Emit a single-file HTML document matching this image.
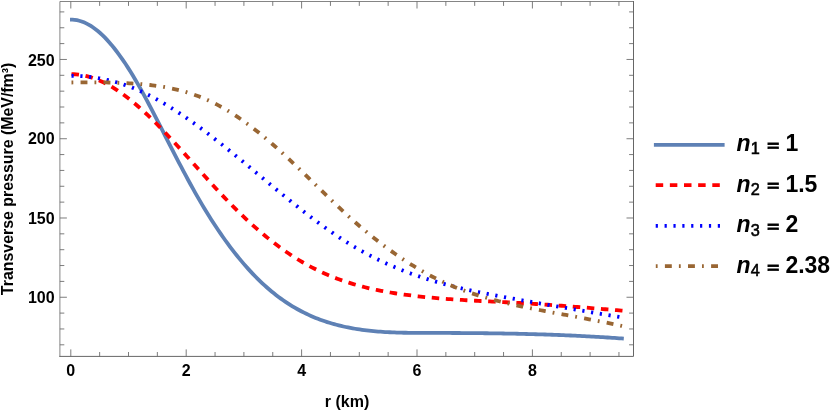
<!DOCTYPE html>
<html><head><meta charset="utf-8"><title>plot</title>
<style>
html,body{margin:0;padding:0;background:#fff;}
svg{display:block;will-change:transform;}
text{font-family:"Liberation Sans",sans-serif;font-weight:bold;fill:#000;}
.t{font-size:16px;}
.lg{font-size:23px;}
.eq{stroke:#000;stroke-width:1.3px;}
.sub{font-size:16.3px;font-weight:normal;stroke:#000;stroke-width:0.55px;}
</style></head>
<body>
<svg width="830" height="410" viewBox="0 0 830 410">
<rect width="830" height="410" fill="#ffffff"/>
<path d="M59.9 356.4 V1.5 H633.5" fill="none" stroke="#666666" stroke-width="0.8" stroke-linecap="square"/>
<path d="M633.5 1.5 V356.4 H59.9" fill="none" stroke="#666666" stroke-width="1" stroke-linecap="square"/>
<path d="M70.80 356.4 v-7 M70.80 1.5 v7 M99.65 356.4 v-4.4 M99.65 1.5 v4.4 M128.50 356.4 v-4.4 M128.50 1.5 v4.4 M157.35 356.4 v-4.4 M157.35 1.5 v4.4 M186.20 356.4 v-7 M186.20 1.5 v7 M215.05 356.4 v-4.4 M215.05 1.5 v4.4 M243.90 356.4 v-4.4 M243.90 1.5 v4.4 M272.75 356.4 v-4.4 M272.75 1.5 v4.4 M301.60 356.4 v-7 M301.60 1.5 v7 M330.45 356.4 v-4.4 M330.45 1.5 v4.4 M359.30 356.4 v-4.4 M359.30 1.5 v4.4 M388.15 356.4 v-4.4 M388.15 1.5 v4.4 M417.00 356.4 v-7 M417.00 1.5 v7 M445.85 356.4 v-4.4 M445.85 1.5 v4.4 M474.70 356.4 v-4.4 M474.70 1.5 v4.4 M503.55 356.4 v-4.4 M503.55 1.5 v4.4 M532.40 356.4 v-7 M532.40 1.5 v7 M561.25 356.4 v-4.4 M561.25 1.5 v4.4 M590.10 356.4 v-4.4 M590.10 1.5 v4.4 M618.95 356.4 v-4.4 M618.95 1.5 v4.4 M59.9 344.81 h4.4 M633.5 344.81 h-4.4 M59.9 328.96 h4.4 M633.5 328.96 h-4.4 M59.9 313.10 h4.4 M633.5 313.10 h-4.4 M59.9 297.25 h7 M633.5 297.25 h-7 M59.9 281.40 h4.4 M633.5 281.40 h-4.4 M59.9 265.54 h4.4 M633.5 265.54 h-4.4 M59.9 249.69 h4.4 M633.5 249.69 h-4.4 M59.9 233.84 h4.4 M633.5 233.84 h-4.4 M59.9 217.99 h7 M633.5 217.99 h-7 M59.9 202.13 h4.4 M633.5 202.13 h-4.4 M59.9 186.28 h4.4 M633.5 186.28 h-4.4 M59.9 170.43 h4.4 M633.5 170.43 h-4.4 M59.9 154.57 h4.4 M633.5 154.57 h-4.4 M59.9 138.72 h7 M633.5 138.72 h-7 M59.9 122.87 h4.4 M633.5 122.87 h-4.4 M59.9 107.01 h4.4 M633.5 107.01 h-4.4 M59.9 91.16 h4.4 M633.5 91.16 h-4.4 M59.9 75.31 h4.4 M633.5 75.31 h-4.4 M59.9 59.46 h7 M633.5 59.46 h-7 M59.9 43.60 h4.4 M633.5 43.60 h-4.4 M59.9 27.75 h4.4 M633.5 27.75 h-4.4 M59.9 11.90 h4.4 M633.5 11.90 h-4.4" fill="none" stroke="#666666" stroke-width="0.85"/>
<path id="bs" d="M70.00 19.64 L72.32 19.66 L74.63 19.85 L76.95 20.21 L79.27 20.73 L81.59 21.43 L83.90 22.31 L86.22 23.35 L88.54 24.56 L90.85 25.94 L93.17 27.47 L95.49 29.17 L97.81 31.02 L100.12 33.01 L102.44 35.16 L104.76 37.45 L107.07 39.89 L109.39 42.46 L111.71 45.16 L114.03 48.00 L116.34 50.97 L118.66 54.06 L120.98 57.27 L123.29 60.60 L125.61 64.04 L127.93 67.60 L130.25 71.26 L132.56 75.03 L134.88 78.90 L137.20 82.87 L139.51 86.93 L141.83 91.09 L144.15 95.33 L146.47 99.63 L148.78 104.01 L151.10 108.43 L153.42 112.89 L155.73 117.39 L158.05 121.91 L160.37 126.44 L162.69 130.98 L165.00 135.52 L167.32 140.05 L169.64 144.58 L171.95 149.10 L174.27 153.60 L176.59 158.07 L178.91 162.53 L181.22 166.95 L183.54 171.33 L185.86 175.68 L188.17 179.98 L190.49 184.23 L192.81 188.43 L195.13 192.58 L197.44 196.65 L199.76 200.67 L202.08 204.61 L204.39 208.48 L206.71 212.28 L209.03 216.02 L211.35 219.68 L213.66 223.28 L215.98 226.80 L218.30 230.26 L220.62 233.65 L222.93 236.98 L225.25 240.23 L227.57 243.42 L229.88 246.54 L232.20 249.59 L234.52 252.58 L236.84 255.50 L239.15 258.35 L241.47 261.14 L243.79 263.86 L246.10 266.52 L248.42 269.11 L250.74 271.63 L253.06 274.09 L255.37 276.49 L257.69 278.82 L260.01 281.08 L262.32 283.28 L264.64 285.42 L266.96 287.49 L269.28 289.50 L271.59 291.45 L273.91 293.33 L276.23 295.16 L278.54 296.92 L280.86 298.62 L283.18 300.27 L285.50 301.86 L287.81 303.40 L290.13 304.88 L292.45 306.30 L294.76 307.68 L297.08 309.00 L299.40 310.28 L301.72 311.50 L304.03 312.68 L306.35 313.81 L308.67 314.90 L310.98 315.94 L313.30 316.94 L315.62 317.89 L317.94 318.81 L320.25 319.68 L322.57 320.52 L324.89 321.31 L327.20 322.08 L329.52 322.80 L331.84 323.49 L334.16 324.15 L336.47 324.78 L338.79 325.38 L341.11 325.94 L343.42 326.48 L345.74 326.99 L348.06 327.47 L350.38 327.92 L352.69 328.35 L355.01 328.75 L357.33 329.13 L359.64 329.48 L361.96 329.81 L364.28 330.12 L366.60 330.41 L368.91 330.67 L371.23 330.92 L373.55 331.15 L375.86 331.36 L378.18 331.55 L380.50 331.72 L382.82 331.88 L385.13 332.03 L387.45 332.16 L389.77 332.27 L392.08 332.38 L394.40 332.47 L396.72 332.55 L399.04 332.62 L401.35 332.68 L403.67 332.73 L405.99 332.77 L408.30 332.80 L410.62 332.83 L412.94 332.85 L415.26 332.87 L417.57 332.88 L419.89 332.89 L422.21 332.90 L424.52 332.90 L426.84 332.91 L429.16 332.91 L431.48 332.91 L433.79 332.92 L436.11 332.92 L438.43 332.93 L440.74 332.93 L443.06 332.94 L445.38 332.95 L447.70 332.96 L450.01 332.97 L452.33 332.98 L454.65 332.99 L456.96 333.00 L459.28 333.01 L461.60 333.03 L463.92 333.04 L466.23 333.06 L468.55 333.08 L470.87 333.09 L473.18 333.11 L475.50 333.14 L477.82 333.16 L480.14 333.18 L482.45 333.21 L484.77 333.23 L487.09 333.26 L489.41 333.29 L491.72 333.32 L494.04 333.35 L496.36 333.39 L498.67 333.42 L500.99 333.46 L503.31 333.50 L505.63 333.54 L507.94 333.58 L510.26 333.63 L512.58 333.67 L514.89 333.72 L517.21 333.77 L519.53 333.82 L521.85 333.87 L524.16 333.93 L526.48 333.99 L528.80 334.05 L531.11 334.11 L533.43 334.17 L535.75 334.24 L538.07 334.30 L540.38 334.37 L542.70 334.45 L545.02 334.52 L547.33 334.60 L549.65 334.68 L551.97 334.76 L554.29 334.84 L556.60 334.93 L558.92 335.02 L561.24 335.11 L563.55 335.20 L565.87 335.30 L568.19 335.40 L570.51 335.50 L572.82 335.60 L575.14 335.71 L577.46 335.82 L579.77 335.93 L582.09 336.05 L584.41 336.17 L586.73 336.29 L589.04 336.41 L591.36 336.54 L593.68 336.67 L595.99 336.80 L598.31 336.94 L600.63 337.07 L602.95 337.22 L605.26 337.36 L607.58 337.51 L609.90 337.66 L612.21 337.82 L614.53 337.97 L616.85 338.14 L619.17 338.30 L621.48 338.47 L623.80 338.64" fill="none" stroke="#5e81b5" stroke-width="3.8"/>
<path id="red" d="M71.50 74.15 L73.81 74.23 L76.12 74.40 L78.43 74.65 L80.74 74.98 L83.05 75.39 L85.37 75.87 L87.68 76.44 L89.99 77.09 L92.30 77.81 L94.61 78.61 L96.92 79.49 L99.23 80.44 L101.54 81.47 L103.85 82.57 L106.16 83.74 L108.47 84.99 L110.78 86.30 L113.10 87.67 L115.41 89.12 L117.72 90.62 L120.03 92.19 L122.34 93.82 L124.65 95.51 L126.96 97.25 L129.27 99.05 L131.58 100.90 L133.89 102.80 L136.20 104.75 L138.52 106.74 L140.83 108.79 L143.14 110.88 L145.45 113.01 L147.76 115.18 L150.07 117.39 L152.38 119.63 L154.69 121.91 L157.00 124.23 L159.31 126.57 L161.62 128.95 L163.94 131.35 L166.25 133.78 L168.56 136.23 L170.87 138.70 L173.18 141.19 L175.49 143.70 L177.80 146.23 L180.11 148.77 L182.42 151.32 L184.73 153.89 L187.04 156.46 L189.35 159.03 L191.67 161.61 L193.98 164.20 L196.29 166.78 L198.60 169.36 L200.91 171.94 L203.22 174.51 L205.53 177.08 L207.84 179.63 L210.15 182.17 L212.46 184.70 L214.77 187.22 L217.09 189.71 L219.40 192.19 L221.71 194.65 L224.02 197.09 L226.33 199.50 L228.64 201.89 L230.95 204.26 L233.26 206.59 L235.57 208.90 L237.88 211.19 L240.19 213.44 L242.51 215.66 L244.82 217.86 L247.13 220.02 L249.44 222.15 L251.75 224.26 L254.06 226.33 L256.37 228.37 L258.68 230.38 L260.99 232.36 L263.30 234.31 L265.61 236.22 L267.92 238.11 L270.24 239.96 L272.55 241.77 L274.86 243.56 L277.17 245.31 L279.48 247.02 L281.79 248.71 L284.10 250.35 L286.41 251.97 L288.72 253.54 L291.03 255.09 L293.34 256.59 L295.66 258.06 L297.97 259.50 L300.28 260.90 L302.59 262.26 L304.90 263.58 L307.21 264.87 L309.52 266.13 L311.83 267.35 L314.14 268.53 L316.45 269.69 L318.76 270.81 L321.07 271.90 L323.39 272.95 L325.70 273.98 L328.01 274.97 L330.32 275.94 L332.63 276.88 L334.94 277.78 L337.25 278.66 L339.56 279.52 L341.87 280.34 L344.18 281.14 L346.49 281.92 L348.81 282.66 L351.12 283.39 L353.43 284.09 L355.74 284.76 L358.05 285.42 L360.36 286.05 L362.67 286.66 L364.98 287.25 L367.29 287.82 L369.60 288.37 L371.91 288.89 L374.23 289.40 L376.54 289.90 L378.85 290.37 L381.16 290.83 L383.47 291.27 L385.78 291.70 L388.09 292.11 L390.40 292.50 L392.71 292.88 L395.02 293.25 L397.33 293.61 L399.64 293.95 L401.96 294.28 L404.27 294.60 L406.58 294.91 L408.89 295.21 L411.20 295.50 L413.51 295.78 L415.82 296.05 L418.13 296.31 L420.44 296.56 L422.75 296.81 L425.06 297.05 L427.38 297.28 L429.69 297.50 L432.00 297.71 L434.31 297.92 L436.62 298.12 L438.93 298.31 L441.24 298.50 L443.55 298.68 L445.86 298.86 L448.17 299.03 L450.48 299.20 L452.79 299.36 L455.11 299.51 L457.42 299.66 L459.73 299.81 L462.04 299.95 L464.35 300.09 L466.66 300.23 L468.97 300.36 L471.28 300.49 L473.59 300.62 L475.90 300.74 L478.21 300.87 L480.53 300.99 L482.84 301.11 L485.15 301.23 L487.46 301.34 L489.77 301.46 L492.08 301.57 L494.39 301.69 L496.70 301.81 L499.01 301.92 L501.32 302.04 L503.63 302.15 L505.95 302.27 L508.26 302.39 L510.57 302.51 L512.88 302.63 L515.19 302.76 L517.50 302.88 L519.81 303.01 L522.12 303.15 L524.43 303.28 L526.74 303.42 L529.05 303.56 L531.36 303.70 L533.68 303.85 L535.99 303.99 L538.30 304.14 L540.61 304.30 L542.92 304.45 L545.23 304.61 L547.54 304.77 L549.85 304.93 L552.16 305.09 L554.47 305.26 L556.78 305.42 L559.10 305.59 L561.41 305.76 L563.72 305.94 L566.03 306.11 L568.34 306.28 L570.65 306.46 L572.96 306.64 L575.27 306.82 L577.58 307.00 L579.89 307.18 L582.20 307.37 L584.52 307.55 L586.83 307.73 L589.14 307.92 L591.45 308.11 L593.76 308.30 L596.07 308.49 L598.38 308.67 L600.69 308.86 L603.00 309.06 L605.31 309.25 L607.62 309.44 L609.93 309.63 L612.25 309.82 L614.56 310.02 L616.87 310.21 L619.18 310.40 L621.49 310.59 L623.80 310.79" fill="none" stroke="#ff0000" stroke-width="3.8" stroke-dasharray="7.5 6.63" stroke-dashoffset="0"/>
<path id="dot" d="M71.50 75.77 L73.81 75.81 L76.12 75.87 L78.43 75.97 L80.74 76.09 L83.05 76.25 L85.37 76.44 L87.68 76.66 L89.99 76.92 L92.30 77.21 L94.61 77.53 L96.92 77.88 L99.23 78.27 L101.54 78.70 L103.85 79.15 L106.16 79.65 L108.47 80.18 L110.78 80.74 L113.10 81.34 L115.41 81.98 L117.72 82.65 L120.03 83.36 L122.34 84.10 L124.65 84.88 L126.96 85.69 L129.27 86.55 L131.58 87.43 L133.89 88.36 L136.20 89.32 L138.52 90.32 L140.83 91.35 L143.14 92.42 L145.45 93.52 L147.76 94.65 L150.07 95.82 L152.38 97.02 L154.69 98.25 L157.00 99.51 L159.31 100.80 L161.62 102.12 L163.94 103.46 L166.25 104.84 L168.56 106.24 L170.87 107.67 L173.18 109.12 L175.49 110.60 L177.80 112.10 L180.11 113.63 L182.42 115.18 L184.73 116.75 L187.04 118.34 L189.35 119.96 L191.67 121.59 L193.98 123.25 L196.29 124.92 L198.60 126.61 L200.91 128.32 L203.22 130.05 L205.53 131.79 L207.84 133.55 L210.15 135.32 L212.46 137.11 L214.77 138.91 L217.09 140.72 L219.40 142.55 L221.71 144.38 L224.02 146.23 L226.33 148.09 L228.64 149.96 L230.95 151.83 L233.26 153.72 L235.57 155.61 L237.88 157.51 L240.19 159.41 L242.51 161.32 L244.82 163.24 L247.13 165.16 L249.44 167.08 L251.75 169.00 L254.06 170.93 L256.37 172.86 L258.68 174.79 L260.99 176.72 L263.30 178.65 L265.61 180.58 L267.92 182.50 L270.24 184.42 L272.55 186.34 L274.86 188.26 L277.17 190.17 L279.48 192.07 L281.79 193.97 L284.10 195.87 L286.41 197.75 L288.72 199.63 L291.03 201.50 L293.34 203.36 L295.66 205.21 L297.97 207.04 L300.28 208.87 L302.59 210.69 L304.90 212.49 L307.21 214.28 L309.52 216.05 L311.83 217.82 L314.14 219.56 L316.45 221.29 L318.76 223.00 L321.07 224.70 L323.39 226.38 L325.70 228.04 L328.01 229.68 L330.32 231.30 L332.63 232.90 L334.94 234.48 L337.25 236.04 L339.56 237.57 L341.87 239.08 L344.18 240.57 L346.49 242.04 L348.81 243.47 L351.12 244.89 L353.43 246.28 L355.74 247.64 L358.05 248.98 L360.36 250.30 L362.67 251.59 L364.98 252.86 L367.29 254.10 L369.60 255.32 L371.91 256.52 L374.23 257.70 L376.54 258.85 L378.85 259.98 L381.16 261.09 L383.47 262.18 L385.78 263.25 L388.09 264.29 L390.40 265.32 L392.71 266.32 L395.02 267.31 L397.33 268.27 L399.64 269.22 L401.96 270.15 L404.27 271.05 L406.58 271.94 L408.89 272.81 L411.20 273.66 L413.51 274.49 L415.82 275.31 L418.13 276.11 L420.44 276.89 L422.75 277.65 L425.06 278.40 L427.38 279.13 L429.69 279.85 L432.00 280.55 L434.31 281.24 L436.62 281.91 L438.93 282.57 L441.24 283.22 L443.55 283.85 L445.86 284.47 L448.17 285.08 L450.48 285.67 L452.79 286.26 L455.11 286.83 L457.42 287.39 L459.73 287.94 L462.04 288.49 L464.35 289.02 L466.66 289.54 L468.97 290.05 L471.28 290.56 L473.59 291.06 L475.90 291.55 L478.21 292.03 L480.53 292.50 L482.84 292.97 L485.15 293.43 L487.46 293.89 L489.77 294.34 L492.08 294.79 L494.39 295.23 L496.70 295.66 L499.01 296.10 L501.32 296.53 L503.63 296.95 L505.95 297.37 L508.26 297.80 L510.57 298.21 L512.88 298.63 L515.19 299.05 L517.50 299.46 L519.81 299.87 L522.12 300.29 L524.43 300.70 L526.74 301.11 L529.05 301.52 L531.36 301.93 L533.68 302.33 L535.99 302.74 L538.30 303.14 L540.61 303.55 L542.92 303.95 L545.23 304.36 L547.54 304.76 L549.85 305.16 L552.16 305.56 L554.47 305.96 L556.78 306.36 L559.10 306.76 L561.41 307.16 L563.72 307.56 L566.03 307.95 L568.34 308.35 L570.65 308.74 L572.96 309.14 L575.27 309.54 L577.58 309.93 L579.89 310.32 L582.20 310.72 L584.52 311.11 L586.83 311.50 L589.14 311.90 L591.45 312.29 L593.76 312.68 L596.07 313.07 L598.38 313.47 L600.69 313.86 L603.00 314.25 L605.31 314.64 L607.62 315.03 L609.93 315.42 L612.25 315.81 L614.56 316.21 L616.87 316.60 L619.18 316.99 L621.49 317.38 L623.80 317.77" fill="none" stroke="#0000ff" stroke-width="3.8" stroke-dasharray="2.2 6.64" stroke-dashoffset="0"/>
<path id="br" d="M71.50 82.49 L73.81 82.46 L76.12 82.43 L78.43 82.41 L80.74 82.39 L83.05 82.37 L85.37 82.36 L87.68 82.35 L89.99 82.35 L92.30 82.35 L94.61 82.35 L96.92 82.36 L99.23 82.38 L101.54 82.40 L103.85 82.43 L106.16 82.47 L108.47 82.51 L110.78 82.56 L113.10 82.62 L115.41 82.69 L117.72 82.77 L120.03 82.85 L122.34 82.95 L124.65 83.05 L126.96 83.17 L129.27 83.29 L131.58 83.43 L133.89 83.57 L136.20 83.73 L138.52 83.91 L140.83 84.09 L143.14 84.30 L145.45 84.52 L147.76 84.75 L150.07 85.01 L152.38 85.28 L154.69 85.58 L157.00 85.89 L159.31 86.23 L161.62 86.59 L163.94 86.98 L166.25 87.39 L168.56 87.82 L170.87 88.29 L173.18 88.78 L175.49 89.30 L177.80 89.85 L180.11 90.43 L182.42 91.04 L184.73 91.68 L187.04 92.36 L189.35 93.08 L191.67 93.82 L193.98 94.61 L196.29 95.43 L198.60 96.30 L200.91 97.20 L203.22 98.14 L205.53 99.12 L207.84 100.15 L210.15 101.21 L212.46 102.32 L214.77 103.48 L217.09 104.67 L219.40 105.91 L221.71 107.18 L224.02 108.50 L226.33 109.85 L228.64 111.24 L230.95 112.67 L233.26 114.14 L235.57 115.65 L237.88 117.19 L240.19 118.76 L242.51 120.37 L244.82 122.02 L247.13 123.69 L249.44 125.40 L251.75 127.15 L254.06 128.92 L256.37 130.73 L258.68 132.57 L260.99 134.43 L263.30 136.33 L265.61 138.25 L267.92 140.21 L270.24 142.19 L272.55 144.19 L274.86 146.23 L277.17 148.28 L279.48 150.37 L281.79 152.47 L284.10 154.60 L286.41 156.74 L288.72 158.90 L291.03 161.08 L293.34 163.28 L295.66 165.48 L297.97 167.70 L300.28 169.93 L302.59 172.17 L304.90 174.42 L307.21 176.67 L309.52 178.92 L311.83 181.18 L314.14 183.45 L316.45 185.71 L318.76 187.97 L321.07 190.22 L323.39 192.48 L325.70 194.72 L328.01 196.96 L330.32 199.19 L332.63 201.41 L334.94 203.62 L337.25 205.81 L339.56 207.99 L341.87 210.16 L344.18 212.30 L346.49 214.43 L348.81 216.54 L351.12 218.62 L353.43 220.68 L355.74 222.72 L358.05 224.74 L360.36 226.73 L362.67 228.70 L364.98 230.65 L367.29 232.57 L369.60 234.47 L371.91 236.35 L374.23 238.20 L376.54 240.03 L378.85 241.84 L381.16 243.62 L383.47 245.38 L385.78 247.11 L388.09 248.82 L390.40 250.50 L392.71 252.16 L395.02 253.80 L397.33 255.41 L399.64 256.99 L401.96 258.55 L404.27 260.09 L406.58 261.59 L408.89 263.08 L411.20 264.53 L413.51 265.96 L415.82 267.37 L418.13 268.75 L420.44 270.10 L422.75 271.43 L425.06 272.73 L427.38 274.00 L429.69 275.24 L432.00 276.46 L434.31 277.65 L436.62 278.82 L438.93 279.96 L441.24 281.06 L443.55 282.15 L445.86 283.20 L448.17 284.23 L450.48 285.23 L452.79 286.20 L455.11 287.15 L457.42 288.08 L459.73 288.98 L462.04 289.85 L464.35 290.71 L466.66 291.54 L468.97 292.35 L471.28 293.14 L473.59 293.91 L475.90 294.66 L478.21 295.39 L480.53 296.11 L482.84 296.80 L485.15 297.48 L487.46 298.14 L489.77 298.79 L492.08 299.42 L494.39 300.04 L496.70 300.64 L499.01 301.23 L501.32 301.81 L503.63 302.37 L505.95 302.93 L508.26 303.47 L510.57 304.00 L512.88 304.52 L515.19 305.04 L517.50 305.54 L519.81 306.04 L522.12 306.53 L524.43 307.02 L526.74 307.50 L529.05 307.97 L531.36 308.44 L533.68 308.90 L535.99 309.35 L538.30 309.81 L540.61 310.25 L542.92 310.70 L545.23 311.14 L547.54 311.57 L549.85 312.01 L552.16 312.44 L554.47 312.87 L556.78 313.29 L559.10 313.72 L561.41 314.14 L563.72 314.57 L566.03 314.99 L568.34 315.41 L570.65 315.84 L572.96 316.26 L575.27 316.69 L577.58 317.11 L579.89 317.54 L582.20 317.97 L584.52 318.40 L586.83 318.83 L589.14 319.27 L591.45 319.71 L593.76 320.15 L596.07 320.60 L598.38 321.05 L600.69 321.51 L603.00 321.97 L605.31 322.44 L607.62 322.91 L609.93 323.39 L612.25 323.87 L614.56 324.37 L616.87 324.86 L619.18 325.37 L621.49 325.88 L623.80 326.41" fill="none" stroke="#996633" stroke-width="3.8" stroke-dasharray="1.8 7.25 6.9 7.03" stroke-dashoffset="0"/>
<path d="M653.9 144.8 H724.6" stroke="#5e81b5" stroke-width="3.8" fill="none"/>
<path d="M655.7 185.1 H724.6" stroke="#ff0000" stroke-width="3.8" fill="none" stroke-dasharray="7.5 6.65"/>
<path d="M655.7 225.8 H724.6" stroke="#0000ff" stroke-width="3.8" fill="none" stroke-dasharray="2.2 6.67"/>
<path d="M655.8 266.2 H724.6" stroke="#996633" stroke-width="3.8" fill="none" stroke-dasharray="1.8 7.3 6.9 7.1"/>
<text x="70.80" y="376.3" text-anchor="middle" class="t">0</text>
<text x="186.20" y="376.3" text-anchor="middle" class="t">2</text>
<text x="301.60" y="376.3" text-anchor="middle" class="t">4</text>
<text x="417.00" y="376.3" text-anchor="middle" class="t">6</text>
<text x="532.40" y="376.3" text-anchor="middle" class="t">8</text>
<text x="54.6" y="302.6" text-anchor="end" class="t">100</text>
<text x="54.6" y="223.5" text-anchor="end" class="t">150</text>
<text x="54.6" y="144.4" text-anchor="end" class="t">200</text>
<text x="54.6" y="65.5" text-anchor="end" class="t">250</text>
<text x="347" y="407.1" text-anchor="middle" class="t">r (km)</text>
<text transform="translate(12.6 178.9) rotate(-90)" text-anchor="middle" class="t" style="font-size:15.92px">Transverse pressure (MeV/fm³)</text>
<text x="736.6" y="151.0" class="lg"><tspan font-style="italic">n</tspan><tspan class="sub" dy="3.4">1</tspan></text>
<text transform="translate(767.2 150.70) scale(0.88 0.658)" class="lg eq">=</text>
<text x="785.4" y="151.0" class="lg">1</text>
<text x="736.6" y="191.6" class="lg"><tspan font-style="italic">n</tspan><tspan class="sub" dy="3.4">2</tspan></text>
<text transform="translate(767.2 191.30) scale(0.88 0.658)" class="lg eq">=</text>
<text x="785.4" y="191.6" class="lg">1.5</text>
<text x="736.6" y="232.2" class="lg"><tspan font-style="italic">n</tspan><tspan class="sub" dy="3.4">3</tspan></text>
<text transform="translate(767.2 231.90) scale(0.88 0.658)" class="lg eq">=</text>
<text x="785.4" y="232.2" class="lg">2</text>
<text x="736.6" y="272.9" class="lg"><tspan font-style="italic">n</tspan><tspan class="sub" dy="3.4">4</tspan></text>
<text transform="translate(767.2 272.60) scale(0.88 0.658)" class="lg eq">=</text>
<text x="785.4" y="272.9" class="lg">2.38</text>
</svg>
</body></html>
